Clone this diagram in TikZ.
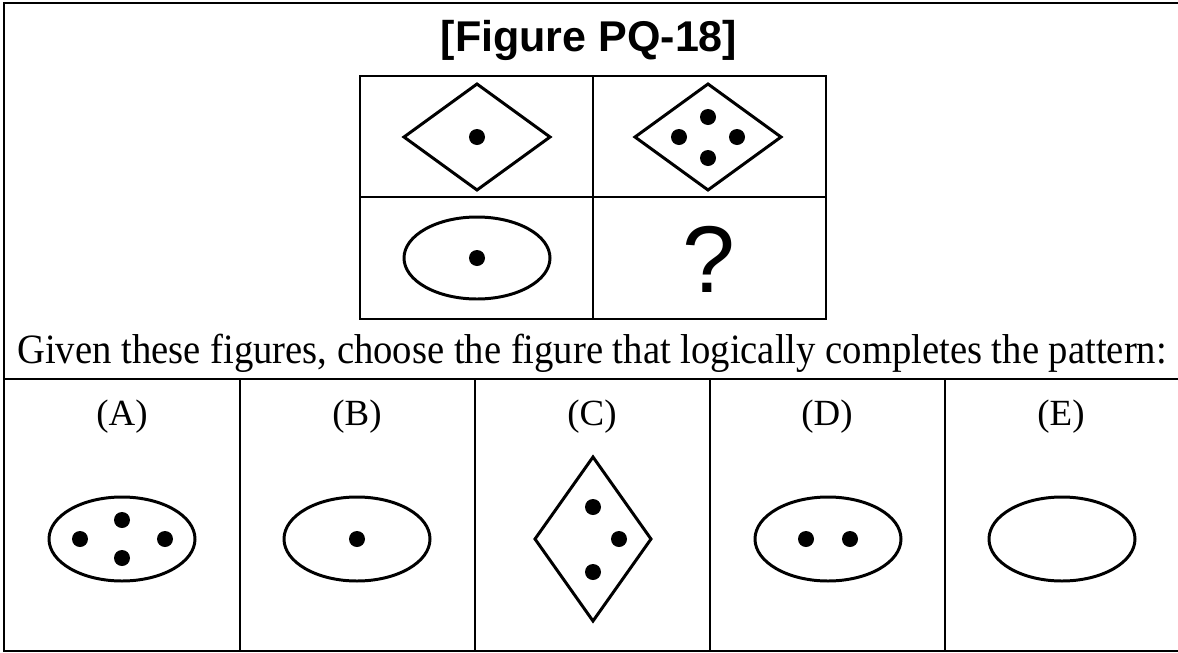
\documentclass[tikz,border=0pt]{standalone}
\usepackage{fontspec}
\setmainfont{Liberation Serif}
\newfontfamily\headfont{Liberation Sans}
\usetikzlibrary{positioning}
\tikzset{
  frame/.style={line width=1.6pt, color=black},
  figline/.style={line width=1.7pt, color=black},
  dot/.style={fill=black},
  optlabel/.style={anchor=base, inner sep=0pt, font=\fontsize{21}{25}\selectfont},
  prompt/.style={anchor=base, inner sep=0pt, font=\fontsize{22}{26}\selectfont}
}

\begin{document}
\begin{tikzpicture}[x=0.02cm, y=-0.02cm]
  \useasboundingbox (0,0) rectangle (1178,653);

  % Outer frame (open on the right)
  \draw[frame] (1178,3) -- (4,3) -- (4,651) -- (1178,651);

  % Title
  \node[anchor=base, inner sep=0pt, font=\headfont\bfseries\fontsize{24.5}{29}\selectfont] (title) at (589,51) {[Figure PQ-18]};

  % Question grid
  \draw[frame] (360,76) rectangle (826,319);
  \draw[frame] (593,76) -- (593,319);
  \draw[frame] (360,197) -- (826,197);

  % Top left: diamond with one dot
  \draw[figline] (404,137) -- (477,84) -- (550,137) -- (477,190) -- cycle;
  \fill[dot] (477,137) circle (8);

  % Top right: diamond with four dots
  \draw[figline] (635,137) -- (708,84) -- (781,137) -- (708,190) -- cycle;
  \foreach \px/\py in {708/117, 679/137, 737/137, 708/158}
    \fill[dot] (\px,\py) circle (8);

  % Bottom left: ellipse with one dot
  \draw[figline] (477,258) ellipse [x radius=73, y radius=41];
  \fill[dot] (477,258) circle (8);

  % Bottom right: missing figure
  \node[inner sep=0pt, font=\headfont\fontsize{54}{62}\selectfont] (qmark) at (709,259) {?};

  % Prompt
  \node[prompt, yscale=1.08, transform shape] (ask) at (592,363) {Given these figures, choose the figure that logically completes the pattern:};

  % Answer row
  \draw[frame] (4,379) -- (1178,379);
  \foreach \vx in {240, 475, 710, 945}
    \draw[frame] (\vx,379) -- (\vx,651);

  \node[optlabel] (labA) at (122,425) {(A)};
  \node[optlabel] (labB) at (357,425) {(B)};
  \node[optlabel] (labC) at (592,425) {(C)};
  \node[optlabel] (labD) at (827,425) {(D)};
  \node[optlabel] (labE) at (1061,425) {(E)};

  % (A) ellipse with four dots
  \draw[figline] (122,539) ellipse [x radius=73, y radius=42];
  \foreach \px/\py in {122/520, 122/558, 80/539, 165/539}
    \fill[dot] (\px,\py) circle (8);

  % (B) ellipse with one dot
  \draw[figline] (357,539) ellipse [x radius=73, y radius=42];
  \fill[dot] (357,539) circle (8);

  % (C) tall diamond with three dots
  \draw[figline] (535,539) -- (593,457) -- (651,539) -- (593,621) -- cycle;
  \foreach \px/\py in {593/507, 619/539, 593/572}
    \fill[dot] (\px,\py) circle (8);

  % (D) ellipse with two dots
  \draw[figline] (828,539) ellipse [x radius=73, y radius=42];
  \foreach \px in {806, 850}
    \fill[dot] (\px,539) circle (8);

  % (E) empty ellipse
  \draw[figline] (1062,539) ellipse [x radius=73, y radius=42];
\end{tikzpicture}
\end{document}
